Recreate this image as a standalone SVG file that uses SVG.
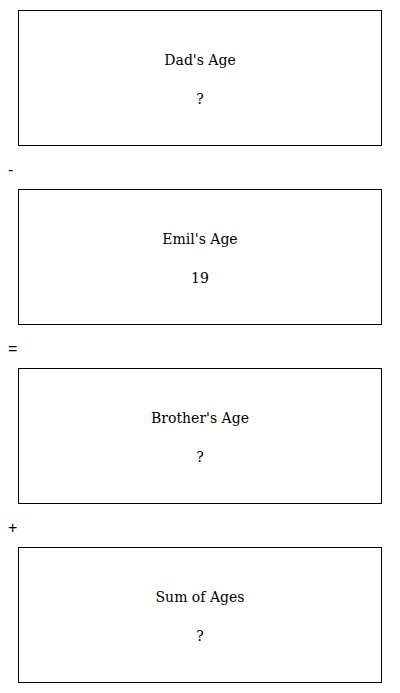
<svg xmlns="http://www.w3.org/2000/svg" width="400" height="693" viewBox="0 0 400 693">
<style>
.box{fill:#fff;stroke:#000;stroke-width:1}
.t{font-family:"DejaVu Serif",serif;font-size:14px;fill:#000;text-anchor:middle}
.op{font-family:"Liberation Sans",sans-serif;font-size:16px;fill:#000}
</style>
<rect width="400" height="693" fill="#fff"/>
<g id="dad">
<rect class="box" x="18.5" y="10.5" width="363" height="135"/>
<text class="t" x="200" y="65">Dad's Age</text>
<text class="t" x="200" y="104">?</text>
</g>
<g id="emil">
<rect class="box" x="18.5" y="189.5" width="363" height="135"/>
<text class="t" x="200" y="244">Emil's Age</text>
<text class="t" x="200" y="283">19</text>
</g>
<g id="brother">
<rect class="box" x="18.5" y="368.5" width="363" height="135"/>
<text class="t" x="200" y="423">Brother's Age</text>
<text class="t" x="200" y="462">?</text>
</g>
<g id="sum">
<rect class="box" x="18.5" y="547.5" width="363" height="135"/>
<text class="t" x="200" y="602">Sum of Ages</text>
<text class="t" x="200" y="641">?</text>
</g>
<g id="operators">
<text class="op" x="8" y="175">-</text>
<text class="op" x="8" y="354">=</text>
<text class="op" x="8" y="533">+</text>
</g>
</svg>
